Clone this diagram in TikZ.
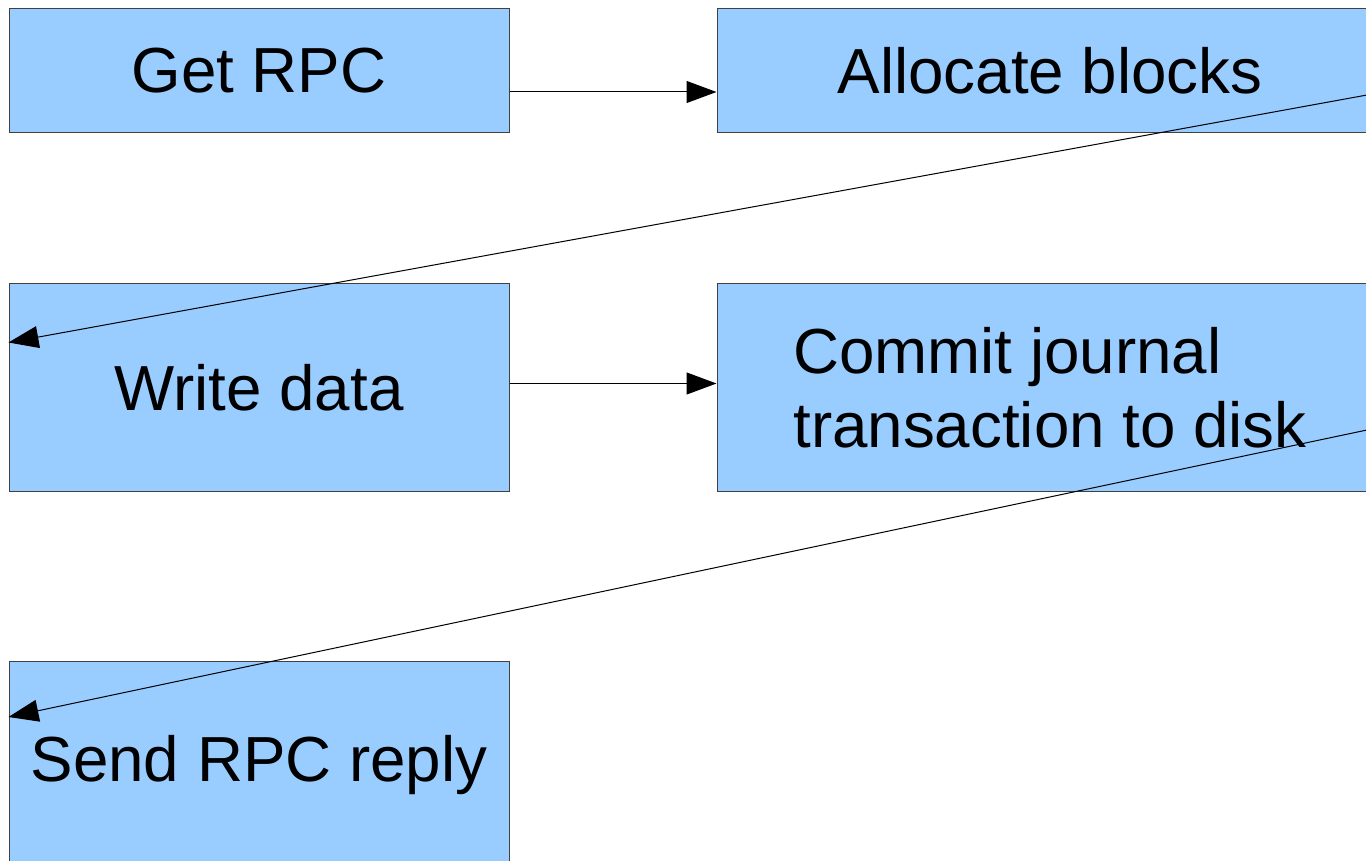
\documentclass[tikz,border=0pt]{standalone}
\usepackage{fontspec}
\setmainfont{Liberation Sans}
\usetikzlibrary{positioning,calc,arrows.meta}

\tikzset{
    stepbox/.style={draw=black!75, fill=boxblue, line width=0.5pt, inner sep=0pt,
        minimum width=250pt, font=\fontsize{31.85}{37}\selectfont},
    flow/.style={line width=0.5pt, -{Triangle[length=15pt, width=11pt]}}
}
\definecolor{boxblue}{HTML}{99CCFF}

\begin{document}
\begin{tikzpicture}[x=0.5pt, y=-0.5pt]
    \useasboundingbox (0,0) rectangle (1366,861);
    % boxes
    \node[stepbox, minimum height=62pt] (get) at (259,71) {Get RPC};
    \node[stepbox, minimum width=333pt, minimum height=62pt] (alloc) at (1050,71) {Allocate blocks};
    \node[stepbox, minimum height=103.5pt] (write) at (259,387.5) {Write data};
    \node[stepbox, minimum width=333pt, minimum height=103.5pt, align=left] (commit) at (1050,387.5) {Commit journal\\transaction to disk};
    \node[stepbox, minimum height=103.5pt] (send) at (259,765) {Send RPC reply};
    % arrows
    \draw[flow] ([yshift=-10.5pt]get.east) -- ([yshift=-10.5pt]alloc.west);
    \draw[flow] ([yshift=-10.5pt]alloc.east) -- ([yshift=22.5pt]write.west);
    \draw[flow] ([yshift=2pt]write.east) -- ([yshift=2pt]commit.west);
    \draw[flow] ([yshift=-19.5pt]commit.east) -- ([yshift=24pt]send.west);
\end{tikzpicture}
\end{document}
